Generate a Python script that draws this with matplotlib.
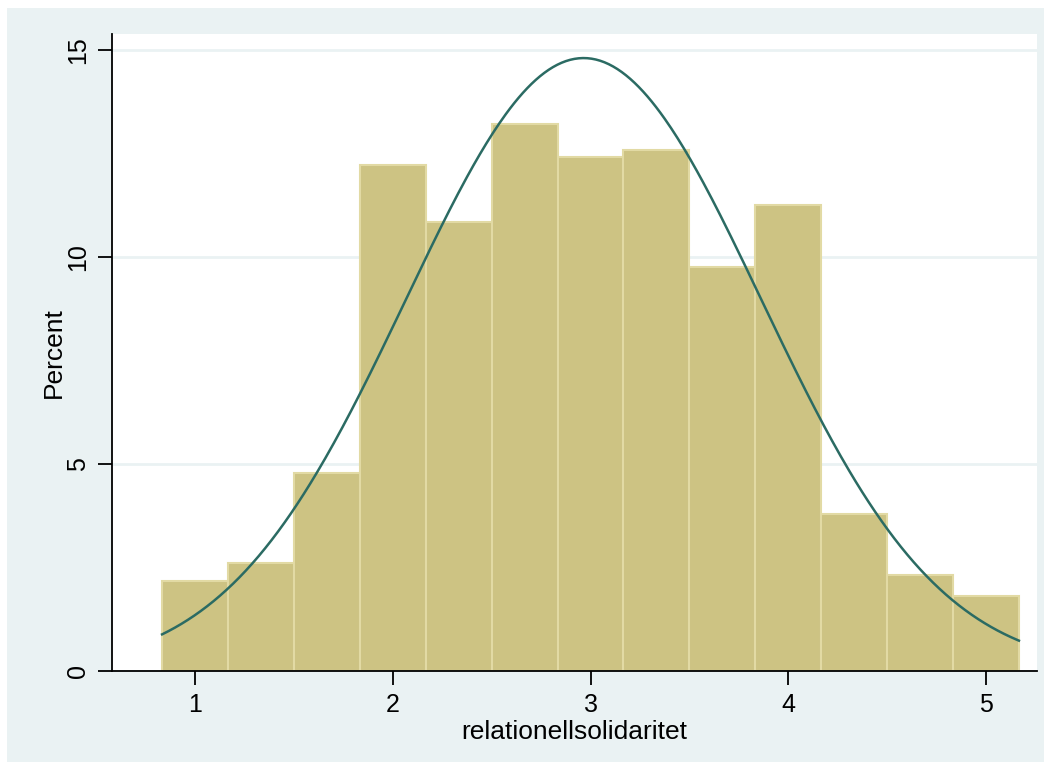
import numpy as np
import matplotlib.pyplot as plt
from matplotlib.patches import Rectangle

# histogram of relationellsolidaritet, percent per bin (width 1/3)
bin_start = 0.8333
bin_width = 1 / 3
percent = [2.17, 2.61, 4.78, 12.22, 10.85, 13.21, 12.42, 12.58, 9.76, 11.26, 3.79, 2.32, 1.81]
# normal overlay parameters
mu = 2.965
sigma = 0.898

plt.rcParams['font.family'] = ['Liberation Sans', 'DejaVu Sans']

fig = plt.figure(figsize=(10.51, 7.70), dpi=100)
bg = Rectangle((7 / 1051, 8 / 770), 1037 / 1051, 754 / 770,
               transform=fig.transFigure, facecolor='#eaf2f3',
               edgecolor='none', zorder=-10)
fig.add_artist(bg)
ax = fig.add_axes([112 / 1051, 1 - 671 / 770, 925 / 1051, 637 / 770])
ax.set_facecolor('white')
ax.set_zorder(1)

edges = bin_start + bin_width * np.arange(len(percent))
ax.bar(edges, percent, width=bin_width, align='edge', color='#cdc383',
       edgecolor='#e2daa4', linewidth=1.5, zorder=2)

xs = np.linspace(edges[0], edges[-1] + bin_width, 400)
ys = 100 * bin_width * np.exp(-0.5 * ((xs - mu) / sigma) ** 2) / (sigma * np.sqrt(2 * np.pi))
ax.plot(xs, ys, color='#2b6b63', linewidth=1.8, zorder=3)

ax.set_xlim(0.58, 5.258)
ax.set_ylim(0, 15.39)
ax.set_yticks([0, 5, 10, 15])
ax.set_xticks([1, 2, 3, 4, 5])
ax.yaxis.grid(True, color='#eaf2f3', linewidth=2)
ax.set_axisbelow(True)

for s in ['top', 'right']:
    ax.spines[s].set_visible(False)
for s in ['left', 'bottom']:
    ax.spines[s].set_linewidth(1.3)
ax.tick_params(length=10, width=1.3, labelsize=18, pad=6)
for lab in ax.get_yticklabels():
    lab.set_rotation(90)
    lab.set_va('center')

ax.set_xlabel('relationellsolidaritet', fontsize=19, labelpad=2)
ax.set_ylabel('Percent', fontsize=19, labelpad=0)

fig.savefig('out.png', dpi=100, facecolor='white')
